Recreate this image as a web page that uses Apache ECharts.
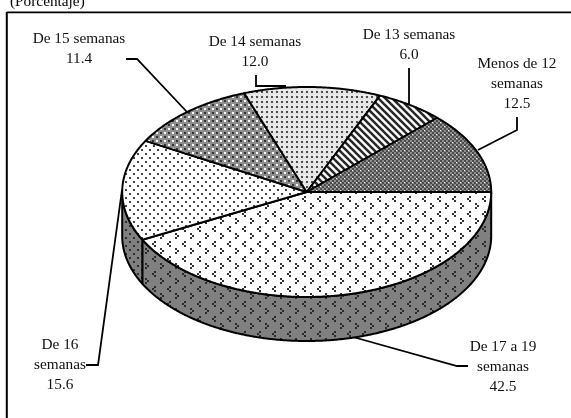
<!DOCTYPE html>
<html><head><meta charset="utf-8">
<style>html,body{margin:0;padding:0;background:#fff}#c{width:571px;height:418px}</style>
<script src="https://cdn.jsdelivr.net/npm/echarts@6/dist/echarts.min.js"></script>
</head><body><div id="c"></div>
<script>
const categories = ['De 17 a 19 semanas','De 16 semanas','De 15 semanas','De 14 semanas','De 13 semanas','Menos de 12 semanas'];
const values = [42.5,15.6,11.4,12.0,6.0,12.5];
const labelLines = [
  ['De 17 a 19','semanas','42.5'],
  ['De 16','semanas','15.6'],
  ['De 15 semanas','11.4'],
  ['De 14 semanas','12.0'],
  ['De 13 semanas','6.0'],
  ['Menos de 12','semanas','12.5']
];
const titleText = '(Porcentaje)';

// layout
const CX=306.7, CY=192, RX=184.5, RY=105, DEPTH=44;
const labelPos=[[503,347],[60,345],[79,39],[255,41.5],[409,35],[517,64]];
const leaders=[
 [[353,337],[457,366],[468,366]],
 [[122,190],[98,365],[86,365]],
 [[187,112],[137,59],[126,59]],
 [[256,75],[256,86],[286,86]],
 [[409,68],[409,104]],
 [[478,150],[517,130],[517,117]]
];

function tile(w,h,bg,draw){
  const c=document.createElement('canvas');c.width=w;c.height=h;
  const g=c.getContext('2d');g.fillStyle=bg;g.fillRect(0,0,w,h);draw(g);return {image:c,repeat:'repeat'};
}
function px(g,col,list){g.fillStyle=col;list.forEach(p=>g.fillRect(p[0],p[1],p[2]||1,p[3]||1));}
function chevrons(bg,dark){
  return tile(15,15,bg,g=>{
    px(g,dark,[[4,1,2,2],[2,3,2,2],[4,5,2,2]]);
    px(g,dark,[[10,8,2,2],[12,10,2,2],[10,12,2,2]]);
  });
}
const tops=[
  chevrons('#ffffff','#333333'),
  tile(8,8,'#ffffff',g=>{px(g,'#444',[[1,1,2,2],[5,5,2,2]]);}),
  tile(8,8,'#8e8e8e',g=>{
    px(g,'#ffffff',[[0,0,2,2],[4,4,2,2]]);
    px(g,'#333333',[[4,0,2,2],[0,4,2,2]]);
  }),
  tile(5,5,'#e6e6e6',g=>{px(g,'#4d4d4d',[[1,1,2,2]]);px(g,'#ffffff',[[4,0,1,1]]);}),
  tile(7,7,'#ffffff',g=>{
    g.strokeStyle='#262626';g.lineWidth=2.5;
    [-7,0,7].forEach(o=>{g.beginPath();g.moveTo(o-1,-1);g.lineTo(o+8,8);g.stroke();});
  }),
  tile(8,8,'#8f8f8f',g=>{
    for(let y=0;y<8;y+=2)for(let x=(y%4?2:0);x<8;x+=4)px(g,'#4a4a4a',[[x,y,2,2]]);
    px(g,'#ffffff',[[0,2,1,1],[4,6,1,1]]);
  })
];
const sides=[
  chevrons('#808080','#2a2a2a'),
  tile(8,8,'#808080',g=>{px(g,'#2f2f2f',[[1,1,2,2],[5,5,2,2]]);})
];

const total=values.reduce((a,b)=>a+b,0);
const startFrac=values.map((v,i)=>values.slice(0,i).reduce((a,b)=>a+b,0)/total);
function pt(a,d){return [CX+RX*Math.cos(a),CY+RY*Math.sin(a)+(d||0)];}

function renderItem(params,api){
  const i=params.dataIndex;
  const a0=startFrac[i]*2*Math.PI, a1=a0+api.value(0)/total*2*Math.PI;
  const children=[];
  const sa0=a0, sa1=Math.min(a1,Math.PI);
  if(sa0<Math.PI){
    const n=Math.max(2,Math.ceil((sa1-sa0)*180));
    const up=[],low=[];
    for(let k=0;k<=n;k++){const a=sa0+(sa1-sa0)*k/n;up.push(pt(a));low.unshift(pt(a,DEPTH));}
    children.push({type:'polygon',shape:{points:up.concat(low)},
      style:{fill:sides[i],stroke:'#000',lineWidth:2,lineJoin:'round'}});
  }
  const n=Math.ceil((a1-a0)*180),pts=[[CX,CY]];
  for(let k=0;k<=n;k++)pts.push(pt(a0+(a1-a0)*k/n));
  children.push({type:'polygon',shape:{points:pts},
    style:{fill:tops[i],stroke:'#000',lineWidth:2,lineJoin:'round'}});
  return {type:'group',children};
}

const g=[];
g.push({type:'line',shape:{x1:6.8,y1:12.4,x2:571,y2:12.4},style:{stroke:'#000',lineWidth:1.6}});
g.push({type:'line',shape:{x1:6.8,y1:12,x2:6.8,y2:418},style:{stroke:'#000',lineWidth:2}});
const FONT='15.3px "Liberation Serif"';
g.push({type:'text',x:10,y:2,style:{text:titleText,font:FONT,fill:'#000',align:'left',verticalAlign:'middle'}});
categories.forEach((c,i)=>{
  labelLines[i].forEach((t,j)=>{
    g.push({type:'text',x:labelPos[i][0],y:labelPos[i][1]+j*20,
      style:{text:t,font:FONT,fill:'#111',align:'center',verticalAlign:'middle'}});
  });
  g.push({type:'polyline',shape:{points:leaders[i]},style:{stroke:'#000',lineWidth:1.8,fill:null}});
});

const chart=echarts.init(document.getElementById('c'),null,{renderer:'canvas'});
chart.setOption({
  animation:false,
  backgroundColor:'#fff',
  series:[{type:'custom',coordinateSystem:'none',silent:true,renderItem,
    data:values.map((v,i)=>({name:categories[i],value:[v]})),encode:{value:0}}],
  graphic:g
});
</script></body></html>
